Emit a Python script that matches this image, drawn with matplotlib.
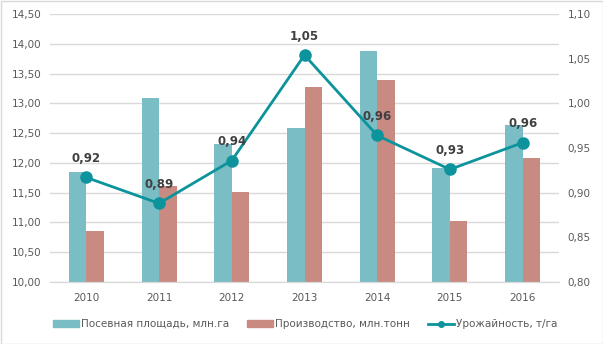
import matplotlib.pyplot as plt
import numpy as np
from matplotlib.lines import Line2D
from matplotlib.patches import Patch

years = ['2010', '2011', '2012', '2013', '2014', '2015', '2016']
area = [11.85, 13.09, 12.32, 12.59, 13.88, 11.91, 12.64]        # млн.га
production = [10.86, 11.61, 11.51, 13.27, 13.39, 11.02, 12.08]  # млн.тонн
yield_t = [0.917, 0.888, 0.936, 1.054, 0.964, 0.926, 0.956]     # т/га

left_ticks = [10.0, 10.5, 11.0, 11.5, 12.0, 12.5, 13.0, 13.5, 14.0, 14.5]
right_ticks = [0.80, 0.85, 0.90, 0.95, 1.00, 1.05, 1.10]

c_area = '#7abdc5'
c_prod = '#c98a82'
c_line = '#0c939b'
c_text = '#595959'
c_grid = '#d9d9d9'

plt.rcParams['font.family'] = ['DejaVu Sans']

fig = plt.figure(figsize=(6.03, 3.44), dpi=100)
ax1 = fig.add_axes([50 / 603, 1 - 282 / 344, 509 / 603, 268 / 344])
ax2 = ax1.twinx()

x = np.arange(len(years))
w = 0.24
ax1.bar(x - w / 2, area, w, color=c_area, zorder=2)
ax1.bar(x + w / 2, production, w, color=c_prod, zorder=2)

ax1.set_ylim(10, 14.5)
ax1.set_yticks(left_ticks)
ax1.set_yticklabels([f'{v:.2f}'.replace('.', ',') for v in left_ticks])
ax1.set_xlim(-0.5, len(years) - 0.5)
ax1.set_xticks(x)
ax1.set_xticklabels(years)
ax1.grid(axis='y', color=c_grid, linewidth=1, zorder=0)
ax1.set_axisbelow(True)

ax2.plot(x, yield_t, color=c_line, linewidth=2, marker='o', markersize=8, zorder=3)
for xi, v in zip(x, yield_t):
    ax2.annotate(f'{v:.2f}'.replace('.', ','), (xi, v), xytext=(0, 9),
                 textcoords='offset points', ha='center', va='bottom',
                 fontsize=8.5, fontweight='bold', color='#404040')
ax2.set_ylim(0.8, 1.1)
ax2.set_yticks(right_ticks)
ax2.set_yticklabels([f'{v:.2f}'.replace('.', ',') for v in right_ticks])

for ax in (ax1, ax2):
    for side in ('top', 'left', 'right'):
        ax.spines[side].set_visible(False)
    ax.spines['bottom'].set_color(c_grid)
    ax.tick_params(length=0, labelsize=7.5, colors=c_text, pad=6)
ax1.tick_params(axis='x', pad=8)

handles = [Patch(color=c_area), Patch(color=c_prod),
           Line2D([0], [0], color=c_line, linewidth=2, marker='o', markersize=4)]
labels = ['Посевная площадь, млн.га', 'Производство, млн.тонн', 'Урожайность, т/га']
fig.legend(handles, labels, loc='center', bbox_to_anchor=(305 / 603, 1 - 324 / 344),
           ncol=3, frameon=False, fontsize=7.5, labelcolor=c_text,
           handlelength=2.5, handleheight=0.58, handletextpad=0.2, columnspacing=1.7)

fig.patches.append(plt.Rectangle((0.5 / 603, 0.5 / 344), 1 - 1 / 603, 1 - 1 / 344,
                                 transform=fig.transFigure, fill=False,
                                 edgecolor=c_grid, linewidth=1))

fig.savefig('out.png', dpi=100)
